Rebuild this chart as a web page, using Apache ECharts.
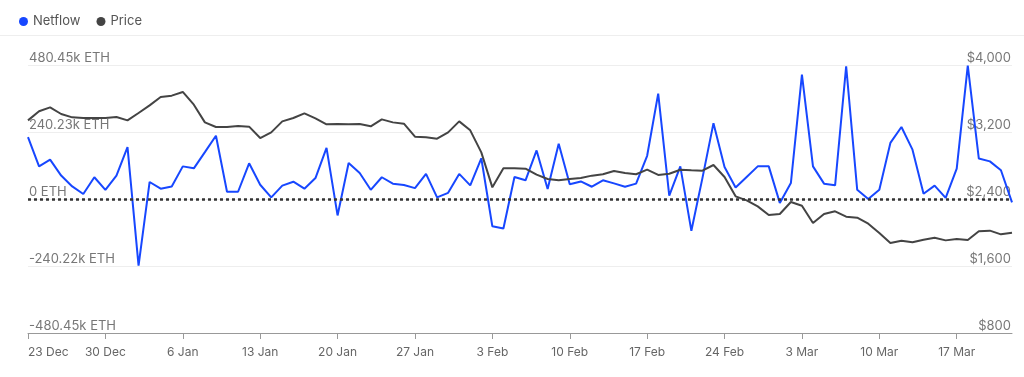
<!DOCTYPE html>
<html>
<head>
<meta charset="utf-8">
<script src="https://cdn.jsdelivr.net/npm/echarts@6/dist/echarts.min.js"></script>
<style>
  html, body { margin: 0; padding: 0; background: #fff; }
  #chart { width: 1024px; height: 377px; }
</style>
</head>
<body>
<div id="chart"></div>
<script>
// daily points, 23 Dec -> 22 Mar
const startDate = new Date(2024, 11, 23)
const months = ['Jan', 'Feb', 'Mar', 'Apr', 'May', 'Jun', 'Jul', 'Aug', 'Sep', 'Oct', 'Nov', 'Dec']
const days = []
for (let i = 0; i < 90; i++) {
  const d = new Date(startDate.getTime() + i * 86400000)
  days.push(d.getDate() + ' ' + months[d.getMonth()])
}

// netflow in thousands of ETH
const netflow = [
  222, 117, 141, 84, 45, 18, 78, 33, 84, 186,
  -239, 61, 37, 45, 117, 110, 168, 227, 26, 26,
  128, 51, 6, 48, 62, 37, 75, 183, -59, 129,
  93, 33, 78, 55, 50, 39, 90, 6, 22, 90,
  49, 146, -98, -106, 79, 67, 174, 36, 198, 53,
  63, 44, 67, 56, 44, 55, 155, 378, 12, 117,
  -114, 75, 272, 115, 41, 79, 117, 117, -14, 57,
  446, 117, 55, 49, 476, 33, 0, 33, 201, 258,
  177, 19, 48, 4, 109, 478, 145, 135, 103, -12
]

// price in USD
const price = [
  3339, 3447, 3494, 3415, 3375, 3367, 3367, 3367, 3379, 3339,
  3427, 3518, 3618, 3634, 3678, 3526, 3315, 3260, 3260, 3272,
  3264, 3128, 3196, 3327, 3367, 3423, 3363, 3292, 3296, 3292,
  3296, 3268, 3351, 3315, 3299, 3144, 3136, 3120, 3196, 3327,
  3220, 2957, 2539, 2766, 2766, 2762, 2691, 2639, 2623, 2639,
  2651, 2679, 2695, 2734, 2710, 2695, 2750, 2687, 2702, 2750,
  2742, 2738, 2806, 2663, 2432, 2384, 2312, 2209, 2221, 2364,
  2320, 2113, 2221, 2253, 2189, 2177, 2105, 1994, 1875, 1902,
  1883, 1914, 1938, 1906, 1922, 1910, 2014, 2022, 1978, 1998
]

const netflowTicks = ['-480.45k ETH', '-240.22k ETH', '0 ETH', '240.23k ETH', '480.45k ETH']
const priceTicks = ['$800', '$1,600', '$2,400', '$3,200', '$4,000']

const chart = echarts.init(document.getElementById('chart'))

const labelFont = "Inter, 'Noto Sans', sans-serif"

chart.setOption({
  animation: false,
  backgroundColor: '#fff',
  textStyle: { fontFamily: labelFont },
  legend: {
    left: 14,
    top: 10,
    icon: 'circle',
    itemWidth: 9,
    itemHeight: 9,
    itemGap: 16,
    textStyle: { color: '#555', fontSize: 13, fontFamily: labelFont },
    data: ['Netflow', 'Price']
  },
  graphic: [{
    type: 'line',
    shape: { x1: 0, y1: 35.5, x2: 1024, y2: 35.5 },
    style: { stroke: '#eeeeee', lineWidth: 1 },
    silent: true
  }],
  grid: {
    left: 28,
    right: 12,
    top: 65,
    bottom: 44
  },
  xAxis: {
    type: 'category',
    data: days,
    boundaryGap: false,
    axisLine: { onZero: false, lineStyle: { color: '#999', width: 1 } },
    axisTick: {
      show: true,
      interval: 6,
      length: 6,
      lineStyle: { color: '#999' }
    },
    axisLabel: {
      interval: 6,
      color: '#666',
      fontSize: 12,
      margin: 13,
      alignMinLabel: 'left'
    },
    splitLine: { show: false }
  },
  yAxis: [
    {
      type: 'value',
      position: 'left',
      min: -480.45,
      max: 480.45,
      interval: 240.225,
      axisLine: { show: false },
      axisTick: { show: false },
      axisLabel: {
        inside: true,
        margin: 1,
        verticalAlign: 'bottom',
        color: '#777',
        fontSize: 13,
        formatter: (v, i) => netflowTicks[i]
      },
      splitLine: { lineStyle: { color: '#eeeeee', width: 1 } }
    },
    {
      type: 'value',
      position: 'right',
      min: 800,
      max: 4000,
      interval: 800,
      axisLine: { show: false },
      axisTick: { show: false },
      axisLabel: {
        inside: true,
        margin: 1,
        verticalAlign: 'bottom',
        color: '#777',
        fontSize: 13,
        formatter: (v, i) => priceTicks[i]
      },
      splitLine: { show: false }
    }
  ],
  series: [
    {
      name: 'Netflow',
      type: 'line',
      yAxisIndex: 0,
      data: netflow,
      symbol: 'none',
      itemStyle: { color: '#1747ff' },
      lineStyle: { color: '#1747ff', width: 2 },
      markLine: {
        silent: true,
        symbol: 'none',
        label: { show: false },
        lineStyle: { color: '#333', type: [3, 3], width: 2.5 },
        data: [{ yAxis: 0 }]
      }
    },
    {
      name: 'Price',
      type: 'line',
      yAxisIndex: 1,
      data: price,
      symbol: 'none',
      itemStyle: { color: '#444' },
      lineStyle: { color: '#444', width: 2 }
    }
  ]
})
</script>
</body>
</html>
